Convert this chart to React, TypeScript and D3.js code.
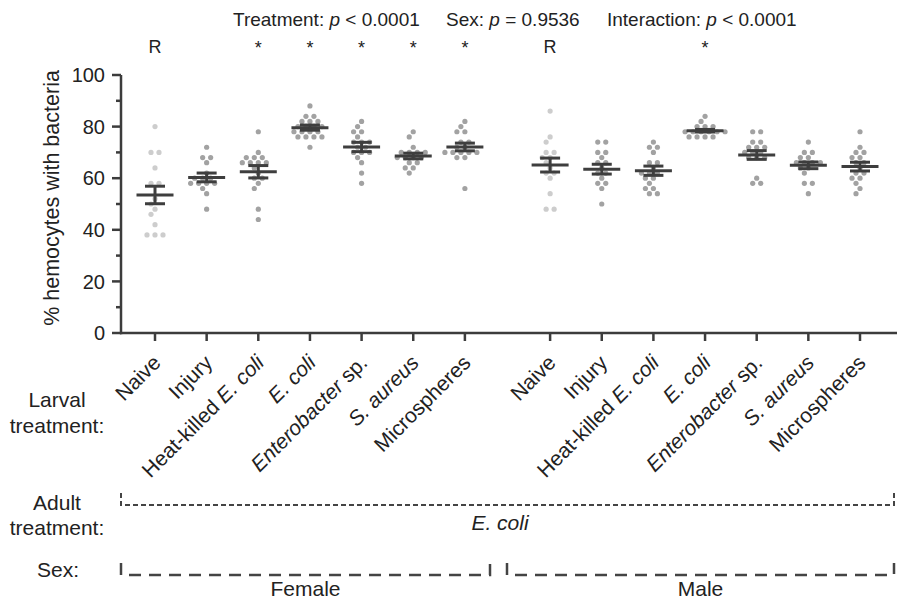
import React from "react";
import * as d3 from "d3";

// larval treatments, text between underscores is italic
const larvalTreatments = [
  "Naive",
  "Injury",
  "Heat-killed _E. coli_",
  "_E. coli_",
  "_Enterobacter_ sp.",
  "_S. aureus_",
  "Microspheres",
];
const sexes = ["Female", "Male"];

const femaleValues = [
  [80, 70, 70, 64, 58, 58, 52, 50, 48, 46, 42, 38, 38, 38],
  [72, 68, 68, 66, 62, 60, 60, 60, 58, 58, 58, 58, 56, 54, 48],
  [78, 70, 68, 68, 68, 66, 66, 66, 66, 64, 62, 60, 60, 58, 56, 48, 44],
  [88, 84, 84, 82, 82, 82, 80, 80, 80, 80, 78, 78, 78, 78, 76, 76, 76, 76, 72],
  [82, 80, 78, 78, 76, 74, 74, 74, 72, 72, 70, 70, 70, 68, 66, 62, 58],
  [78, 76, 72, 70, 70, 70, 70, 68, 68, 68, 68, 66, 66, 64, 64, 62],
  [82, 80, 78, 78, 74, 74, 72, 72, 70, 70, 70, 70, 70, 68, 68, 56],
];
const maleValues = [
  [86, 76, 74, 70, 70, 68, 68, 66, 64, 62, 62, 60, 54, 48, 48],
  [74, 74, 70, 70, 68, 66, 66, 64, 62, 62, 60, 58, 58, 56, 50],
  [74, 72, 72, 70, 66, 66, 64, 62, 62, 62, 60, 60, 58, 56, 56, 54, 54],
  [84, 82, 80, 80, 80, 78, 78, 78, 78, 78, 78, 76, 76, 76, 76],
  [78, 78, 74, 74, 72, 72, 72, 70, 70, 70, 68, 68, 68, 60, 58, 58],
  [74, 70, 70, 68, 68, 66, 66, 66, 66, 64, 64, 62, 58, 58, 54],
  [78, 72, 70, 70, 68, 68, 66, 66, 64, 62, 62, 60, 60, 58, 56, 54],
];

const femaleMeans = [53.5, 60.3, 62.5, 79.6, 72.1, 68.6, 72.1];
const femaleSems = [3.4, 1.7, 2.4, 1.0, 1.8, 1.1, 1.5];
const maleMeans = [65.1, 63.5, 62.9, 78.4, 69.0, 65.0, 64.5];
const maleSems = [2.7, 1.9, 1.8, 0.5, 1.7, 1.3, 1.7];

const femaleMarks = ["R", "", "*", "*", "*", "*", "*"];
const maleMarks = ["R", "", "", "*", "", "", ""];

const yTicks = [0, 20, 40, 60, 80, 100];
const yMinorTicks = [10, 30, 50, 70, 90];

const stats = [
  { name: "Treatment: ", rel: " < 0.0001" },
  { name: "Sex: ", rel: " = 0.9536" },
  { name: "Interaction: ", rel: " < 0.0001" },
];
const statX = [233, 446, 607];

const W = 899;
const H = 602;
const FONT = "'Liberation Sans', Arial, Helvetica, sans-serif";
const INK = "#222";
const AXIS = "#3c3c3c";
const GAP = 1.65; // space between sexes, in category steps

const y = d3.scaleLinear().domain([0, 100]).range([333, 75]);
const nCat = larvalTreatments.length;
const x = d3
  .scaleLinear()
  .domain([0, 2 * (nCat - 1) + GAP])
  .range([155, 860]);

function pos(sexIdx: number, i: number) {
  return x(i + sexIdx * (nCat - 1 + GAP));
}

function parts(label: string) {
  return label.split("_").map((t, k) => ({ t, it: k % 2 === 1 })).filter(p => p.t.length);
}

// simple row-based beeswarm
function swarm(values: number[]) {
  const rows = d3.groups(values, v => v).sort((a, b) => b[0] - a[0]);
  const placed: { dx: number; py: number }[] = [];
  const step = 8;
  for (const [v, arr] of rows) {
    const n = arr.length;
    const py = y(v);
    const base = arr.map((_, k) => (k - (n - 1) / 2) * step);
    for (const s of [0, -4, 4, -8, 8, -12, 12]) {
      const xs = base.map(b => b + s);
      const hit = xs.some(dx => placed.some(p => Math.hypot(p.dx - dx, p.py - py) < 5.6));
      if (!hit || s === 12) {
        xs.forEach(dx => placed.push({ dx, py }));
        break;
      }
    }
  }
  return placed;
}

function Group({ cx, values, mean, sem, light }: { cx: number; values: number[]; mean: number; sem: number; light: boolean }) {
  const pts = swarm(values);
  return (
    <g>
      {pts.map((p, k) => (
        <circle key={k} cx={cx + p.dx} cy={p.py} r={2.6} fill={light ? "#cdcdcd" : "#a2a2a2"} />
      ))}
      <g stroke="#3e3e3e" strokeWidth={3}>
        <line x1={cx - 18.5} x2={cx + 18.5} y1={y(mean)} y2={y(mean)} />
        <line x1={cx} x2={cx} y1={y(mean + sem)} y2={y(mean - sem)} />
        <line x1={cx - 10} x2={cx + 10} y1={y(mean + sem)} y2={y(mean + sem)} />
        <line x1={cx - 10} x2={cx + 10} y1={y(mean - sem)} y2={y(mean - sem)} />
      </g>
    </g>
  );
}

export default function App() {
  const groups = [
    { values: femaleValues, means: femaleMeans, sems: femaleSems, marks: femaleMarks },
    { values: maleValues, means: maleMeans, sems: maleSems, marks: maleMarks },
  ];
  const sexBrackets = [
    [121, 490],
    [507, 894],
  ];

  return (
    <svg width={W} height={H} style={{ position: "absolute", left: 0, top: 0, background: "#fff" }} fontFamily={FONT}>
      {/* stats header */}
      {stats.map((s, k) => (
        <text key={k} x={statX[k]} y={26} fontSize={19} fill={INK}>
          {s.name}
          <tspan fontStyle="italic">p</tspan>
          {s.rel}
        </text>
      ))}

      {/* y axis */}
      <line x1={121} x2={121} y1={y(100)} y2={y(0) + 1.25} stroke={AXIS} strokeWidth={2.5} />
      {yTicks.map(t => (
        <g key={t}>
          <line x1={112} x2={121} y1={y(t)} y2={y(t)} stroke={AXIS} strokeWidth={2.5} />
          <text x={105} y={y(t)} dy="0.36em" textAnchor="end" fontSize={20} fill={INK}>
            {t}
          </text>
        </g>
      ))}
      {yMinorTicks.map(t => (
        <line key={t} x1={116} x2={121} y1={y(t)} y2={y(t)} stroke={AXIS} strokeWidth={2.5} />
      ))}
      <text transform={`translate(59,${198}) rotate(-90)`} textAnchor="middle" fontSize={21.5} fill={INK}>
        % hemocytes with bacteria
      </text>

      {/* x axis */}
      <line x1={120} x2={897} y1={y(0)} y2={y(0)} stroke={AXIS} strokeWidth={2.5} />

      {groups.map((g, si) =>
        larvalTreatments.map((lab, i) => {
          const cx = pos(si, i);
          return (
            <g key={`${si}-${i}`}>
              <line x1={cx} x2={cx} y1={y(0)} y2={y(0) + 8} stroke={AXIS} strokeWidth={2.5} />
              <Group cx={cx} values={g.values[i]} mean={g.means[i]} sem={g.sems[i]} light={i === 0} />
              {g.marks[i] && (
                <text x={cx} y={g.marks[i] === "*" ? 54 : 53} textAnchor="middle" fontSize={18} fill={INK}>
                  {g.marks[i]}
                </text>
              )}
              <text transform={`translate(${cx + 7},364) rotate(-45)`} textAnchor="end" fontSize={21} fill={INK}>
                {parts(lab).map((p, k) => (
                  <tspan key={k} fontStyle={p.it ? "italic" : "normal"}>
                    {p.t}
                  </tspan>
                ))}
              </text>
            </g>
          );
        })
      )}

      {/* row labels */}
      <g fontSize={21} fill={INK} textAnchor="middle">
        <text x={57} y={407}>Larval</text>
        <text x={57} y={433}>treatment:</text>
        <text x={57} y={510}>Adult</text>
        <text x={57} y={535}>treatment:</text>
        <text x={58} y={577}>Sex:</text>
      </g>

      {/* adult treatment bracket */}
      <path
        d={`M121,493 V505 H894 V493`}
        fill="none"
        stroke="#444"
        strokeWidth={2}
        strokeDasharray="5,3"
      />
      <text x={500} y={530} textAnchor="middle" fontSize={21} fontStyle="italic" fill={INK}>
        E. coli
      </text>

      {/* sex brackets */}
      {sexes.map((s, k) => {
        const [a, b] = sexBrackets[k];
        return (
          <g key={s}>
            <path d={`M${a},563 V575 H${b} V563`} fill="none" stroke="#444" strokeWidth={2.5} strokeDasharray="12,8" />
            <text x={(a + b) / 2} y={596} textAnchor="middle" fontSize={21} fill={INK}>
              {s}
            </text>
          </g>
        );
      })}
    </svg>
  );
}
